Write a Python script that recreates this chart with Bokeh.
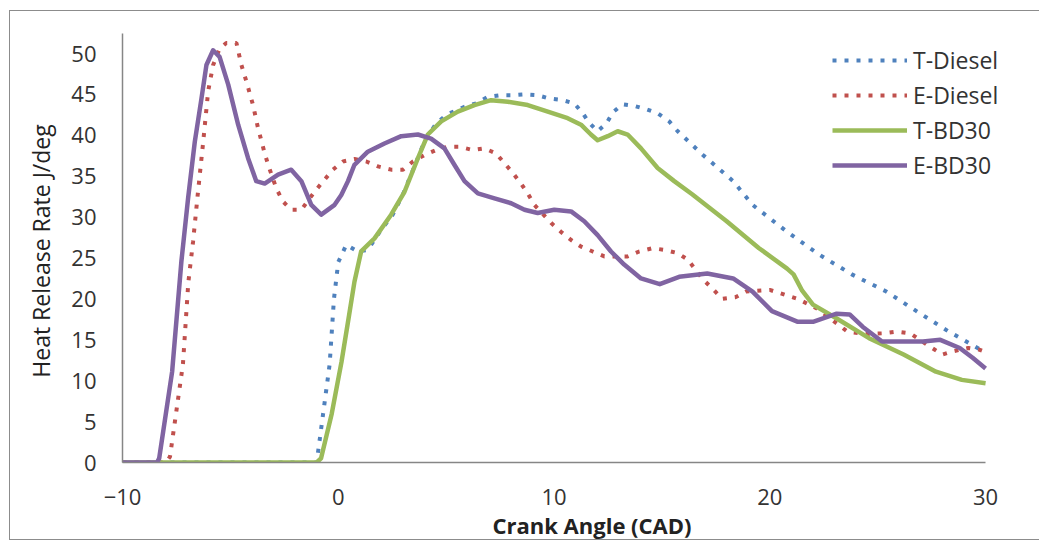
from bokeh.plotting import figure
from bokeh.models import Range1d, Legend, LegendItem, Title, FixedTicker
from bokeh.embed import file_html
from bokeh.resources import INLINE

# ---- data ----
t_diesel_x = [-10, -1, -0.85, -0.6, -0.4, -0.2, 0, 0.37, 0.91, 1.37, 2, 2.5, 3, 3.5, 4, 4.5, 5, 5.85, 6.39,
              6.93, 7.47, 8.09, 8.63, 9.24, 9.78, 10.4, 10.94, 11.33, 11.64, 12.02, 12.44, 12.72, 13.18, 13.72,
              14.26, 14.8, 15.34, 15.73, 16.9, 18.3, 19.2, 20.8, 22.3, 23.8, 25.4, 26.8, 28.3, 29.7, 30]
t_diesel_y = [0, 0, 3, 8, 12, 20, 24.5, 26.6, 25.8, 26, 28.5, 30.2, 32.8, 36, 39.3, 41.3, 42.5, 43.5, 43.9,
              44.7, 44.9, 44.9, 45, 44.9, 44.5, 44.3, 43.9, 42.7, 41.5, 40.5, 41.5, 42.8, 43.8, 43.6,
              43.2, 42.7, 41.7, 40.5, 37.6, 34.4, 31.5, 28.2, 25.4, 23, 20.9, 18.5, 16, 13.9, 13.7]

e_diesel_x = [-10, -8, -7.8, -7.2, -6.95, -6.73, -6.5, -6.26, -6.03, -5.8, -5.5, -5.19, -4.72, -4.49, -4.26,
              -3.95, -3.72, -3.41, -3.25, -2.87, -2.56, -2.18, -1.71, -1.1, -0.63, -0.25, 0.22, 0.75, 1.3,
              1.84, 2.45, 3, 3.46, 4, 4.54, 5.08, 5.62, 6.24, 6.77, 7.31, 7.7, 8.09, 8.47, 8.78, 9.09, 9.86,
              10.32, 10.79, 11.25, 11.79, 12.33, 13.41, 13.95, 14.57, 15.11, 15.73, 16.2, 16.9, 17.4, 17.8,
              18.4, 18.9, 20, 21.3, 22.2, 23.1, 23.6, 24.4, 25.3, 25.9, 26.5, 27.4, 28, 28.5, 29.2, 29.7, 30]
e_diesel_y = [0, 0, 0.7, 12, 22, 27, 33.1, 39.2, 45.4, 48.6, 50.6, 51.3, 51.3, 48.6, 46.6,
              43.7, 40.9, 37.8, 36.4, 33.5, 31.9, 30.9, 30.9, 33.1, 34.6, 35.8, 36.8, 37.1, 36.8,
              36.2, 35.8, 35.8, 36.8, 37.6, 38.2, 38.6, 38.6, 38.2, 38.4, 37.8, 36.6, 35.4, 34.1, 32.9, 31.5, 29.3,
              28.2, 27.2, 26.4, 25.8, 25.2, 25.2, 25.8, 26.2, 26, 25.6, 24.8, 22.4, 21.1, 20,
              20.2, 20.9, 21.1, 20, 18.8, 17, 16, 15.7, 15.8, 16, 15.8, 14.2, 13.2, 13.6, 14, 13.8, 13.5]

t_bd30_x = [-10, -1, -0.8, -0.3, 0.15, 0.5, 0.75, 1.06, 1.68, 2.45, 3.07, 3.69, 4.15, 4.77, 5.54, 6.31, 7.08,
            7.86, 8.78, 9.71, 10.63, 11.25, 11.71, 12.02, 12.49, 12.95, 13.41, 14.03, 14.8, 15.57, 16.4, 18,
            19.5, 20.8, 21.1, 21.5, 22, 23.1, 24.6, 26.2, 27.7, 28.9, 30]
t_bd30_y = [0, 0, 0.5, 6, 12.3, 18, 22.1, 25.8, 27.4, 30.3, 33.1, 37.2, 40.1, 41.7, 42.9, 43.7, 44.3,
            44.1, 43.7, 42.9, 42.1, 41.3, 40.1, 39.4, 39.9, 40.5, 40.1, 38.4, 36, 34.4, 32.8, 29.5,
            26.2, 23.7, 23, 21, 19.3, 17.6, 15.2, 13.2, 11.1, 10.1, 9.7]

e_bd30_x = [-10, -8.4, -8.3, -7.7, -7.27, -6.96, -6.65, -6.34, -6.11, -5.8, -5.5, -5.1, -4.64, -4.18, -3.8,
            -3.41, -2.79, -2.18, -1.71, -1.25, -0.79, -0.17, 0.14, 0.45, 0.75, 1.37, 2.14, 2.92, 3.69, 4.3,
            4.92, 5.38, 5.85, 6.47, 7.24, 8.01, 8.63, 9.24, 10.01, 10.79, 11.4, 12.02, 12.64, 13.25, 14.03,
            14.9, 15.8, 17.1, 18.3, 19.2, 20.1, 21.3, 22, 23.1, 23.7, 24.3, 25.2, 26.2, 27.1, 27.9, 28.8,
            29.4, 30]
e_bd30_y = [0, 0, 0.5, 11.1, 24.6, 32.3, 39.2, 44.5, 48.6, 50.4, 49.6, 46.2, 41.3, 37.2, 34.4,
            34.1, 35.2, 35.8, 34.4, 31.5, 30.3, 31.5, 32.7, 34.4, 36.4, 38, 39, 39.9, 40.1, 39.6,
            38.4, 36.4, 34.4, 32.9, 32.3, 31.7, 30.9, 30.5, 30.9, 30.7, 29.5, 27.8, 25.8, 24.2, 22.5,
            21.8, 22.7, 23.1, 22.5, 20.9, 18.5, 17.2, 17.2, 18.2, 18.1, 16.6, 14.8, 14.8, 14.8, 15, 14,
            12.8, 11.5]

series_names = ["T-Diesel", "E-Diesel", "T-BD30", "E-BD30"]
x_ticks = [-10, 0, 10, 20, 30]
y_ticks = [0, 5, 10, 15, 20, 25, 30, 35, 40, 45, 50]

FONT = "Open Sans"

p = figure(frame_width=903, frame_height=429, x_range=Range1d(-10, 31.85), y_range=Range1d(0, 52.45),
           output_backend="svg", toolbar_location=None,
           min_border_left=112, min_border_right=14, min_border_top=22, min_border_bottom=0,
           styles={"border": "1px solid #8c8c8c", "margin-left": "9px", "margin-top": "10px"})
p.outline_line_color = None
p.background_fill_color = "white"
p.border_fill_color = "white"
p.xgrid.visible = False
p.ygrid.visible = False

for ax in (p.xaxis[0], p.yaxis[0]):
    ax.axis_line_color = "#868686"
    ax.axis_line_width = 1.5
    ax.major_tick_line_color = None
    ax.minor_tick_line_color = None
    ax.major_tick_out = 0
    ax.major_tick_in = 0
    ax.major_label_text_font = FONT
    ax.major_label_text_font_size = "22px"
    ax.major_label_text_color = "#333333"

p.xaxis.ticker = FixedTicker(ticks=x_ticks)
p.yaxis.ticker = FixedTicker(ticks=y_ticks)
p.xaxis.bounds = (-10, 30)
p.xaxis.major_label_standoff = 26
p.yaxis.major_label_standoff = 26

p.yaxis.axis_label = "Heat Release Rate  J/deg"
p.yaxis.axis_label_text_font = FONT
p.yaxis.axis_label_text_font_style = "normal"
p.yaxis.axis_label_text_font_size = "23px"
p.yaxis.axis_label_text_color = "#222222"
p.yaxis.axis_label_standoff = 11

r1 = p.line(t_diesel_x, t_diesel_y, line_color="#4F81BD", line_width=4, line_dash="4 8")
r2 = p.line(e_diesel_x, e_diesel_y, line_color="#C0504D", line_width=4, line_dash="4 8")
r3 = p.line(t_bd30_x, t_bd30_y, line_color="#9BBB59", line_width=4.5, line_join="round")
r4 = p.line(e_bd30_x, e_bd30_y, line_color="#8064A2", line_width=4.5, line_join="round")

xtitle = Title(text="Crank Angle (CAD)", align="left", offset=370, standoff=0,
               text_font=FONT, text_font_style="bold", text_font_size="22px", text_color="#222222")
p.add_layout(xtitle, "below")

legend = Legend(items=[LegendItem(label=n, renderers=[r]) for n, r in zip(series_names, [r1, r2, r3, r4])],
                location=(710, 281), orientation="vertical",
                glyph_width=75, glyph_height=26, label_height=26, spacing=3, padding=0, margin=0,
                label_standoff=6, border_line_color=None, background_fill_alpha=0,
                label_text_font=FONT, label_text_font_size="23px", label_text_color="#333333")
p.add_layout(legend)

open("out.html", "w").write(file_html(p, INLINE))
